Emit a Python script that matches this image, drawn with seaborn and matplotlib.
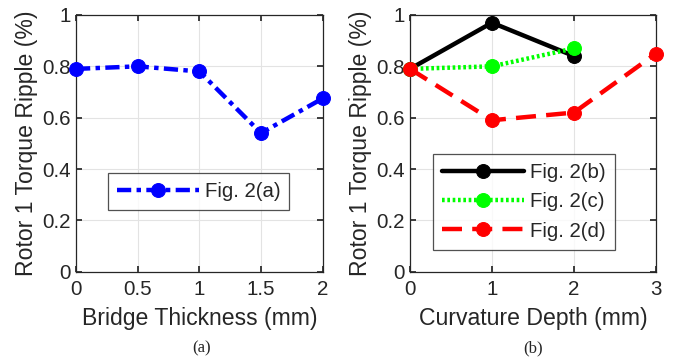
import matplotlib
matplotlib.use("Agg")
import matplotlib.pyplot as plt
import seaborn as sns
import pandas as pd

# Data
bridge_x = [0, 0.5, 1, 1.5, 2]
bridge_y = [0.79, 0.80, 0.78, 0.54, 0.675]

curv_b_x = [0, 1, 2]
curv_b_y = [0.79, 0.97, 0.84]
curv_c_x = [0, 1, 2]
curv_c_y = [0.79, 0.80, 0.87]
curv_d_x = [0, 1, 2, 3]
curv_d_y = [0.79, 0.59, 0.62, 0.85]

sns.set_theme(style="whitegrid")
plt.rcParams['font.family'] = ['Liberation Sans', 'DejaVu Sans']

fig = plt.figure(figsize=(6.83, 3.64), dpi=100)
W, H = 683, 364
ax1 = fig.add_axes([76 / W, 1 - 271.7 / H, (322.7 - 76) / W, (271.7 - 15) / H])
ax2 = fig.add_axes([410 / W, 1 - 271.7 / H, (656 - 410) / W, (271.7 - 15) / H])

lw = 3.2
ms = 10
LFS = 16.6
TFS = 14.8

dfa = pd.DataFrame({"x": bridge_x, "y": bridge_y})
sns.lineplot(data=dfa, x="x", y="y", ax=ax1, color="#0000ff", lw=lw,
             linestyle=(0, (3.2, 1.2, 1.0, 1.2)), marker="o", markersize=ms,
             markeredgecolor="#0000ff", label="Fig. 2(a)", clip_on=False, zorder=5)

dfb = pd.DataFrame({"x": curv_b_x, "y": curv_b_y})
dfc = pd.DataFrame({"x": curv_c_x, "y": curv_c_y})
dfd = pd.DataFrame({"x": curv_d_x, "y": curv_d_y})
sns.lineplot(data=dfb, x="x", y="y", ax=ax2, color="black", lw=lw, linestyle="-",
             marker="o", markersize=ms, markeredgecolor="black", label="Fig. 2(b)",
             clip_on=False, zorder=5)
sns.lineplot(data=dfc, x="x", y="y", ax=ax2, color="#00ff00", lw=lw,
             linestyle=(0, (0.6, 0.6)), marker="o", markersize=ms,
             markeredgecolor="#00ff00", label="Fig. 2(c)", clip_on=False, zorder=6)
sns.lineplot(data=dfd, x="x", y="y", ax=ax2, color="#ff0000", lw=lw,
             linestyle=(0, (4.5, 2.3)), marker="o", markersize=ms,
             markeredgecolor="#ff0000", label="Fig. 2(d)", clip_on=False, zorder=7)

for ax in (ax1, ax2):
    ax.set_ylim(0, 1)
    ax.set_yticks([0, 0.2, 0.4, 0.6, 0.8, 1])
    ax.set_yticklabels(["0", "0.2", "0.4", "0.6", "0.8", "1"])
    ax.set_ylabel("Rotor 1 Torque Ripple (%)", fontsize=LFS, color="#262626", labelpad=3)
    ax.tick_params(axis="both", labelsize=TFS, colors="#262626", length=4,
                   direction="in", left=True, bottom=True, right=True, top=True)
    ax.tick_params(axis="x", pad=6)
    ax.tick_params(axis="y", pad=4)
    ax.grid(True, color="#e3e3e3", lw=0.8)
    for s in ax.spines.values():
        s.set_color("#262626")
        s.set_linewidth(0.9)
    ax.set_facecolor("white")

ax1.set_xlim(0, 2)
ax1.set_xticks([0, 0.5, 1, 1.5, 2])
ax1.set_xticklabels(["0", "0.5", "1", "1.5", "2"])
ax1.set_xlabel("Bridge Thickness (mm)", fontsize=LFS, color="#262626", labelpad=6)

ax2.set_xlim(0, 3)
ax2.set_xticks([0, 1, 2, 3])
ax2.set_xticklabels(["0", "1", "2", "3"])
ax2.set_xlabel("Curvature Depth (mm)", fontsize=LFS, color="#262626", labelpad=6)

leg1 = ax1.legend(loc="upper left", bbox_to_anchor=(31.7 / 246.7, (271.7 - 173) / 256.7),
                  fontsize=14.7, frameon=True, fancybox=False, edgecolor="#262626",
                  handlelength=4.0, borderpad=0.45, handletextpad=0.3, borderaxespad=0)
leg1.get_frame().set_linewidth(0.9)
leg2 = ax2.legend(loc="upper left", bbox_to_anchor=(23 / 246, (271.7 - 154) / 256.7),
                  fontsize=14.7, frameon=True, fancybox=False, edgecolor="#262626",
                  handlelength=4.0, borderpad=0.45, handletextpad=0.3, labelspacing=0.5,
                  borderaxespad=0)
leg2.get_frame().set_linewidth(0.9)

fig.text(202 / W, 1 - 348 / H, "(a)", ha="center", va="center", fontsize=12,
         family=["Liberation Serif", "DejaVu Serif"])
fig.text(533 / W, 1 - 348 / H, "(b)", ha="center", va="center", fontsize=12,
         family=["Liberation Serif", "DejaVu Serif"])

fig.savefig("out.png", dpi=100, facecolor="white")
